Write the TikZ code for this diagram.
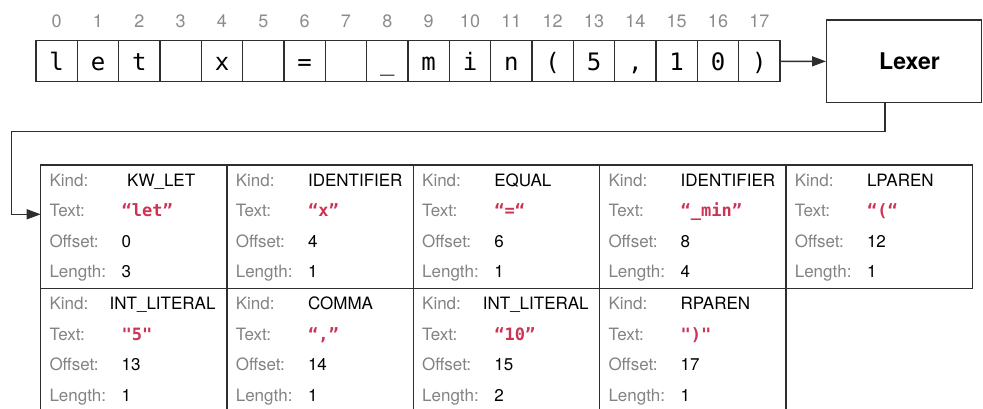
\documentclass[tikz,border=0pt]{standalone}
\usepackage{fontspec}
\setmainfont{TeX Gyre Heros}
\newfontfamily\monof[Ligatures=TeXOff]{DejaVu Sans Mono}
\usetikzlibrary{arrows.meta,calc}
\definecolor{linec}{HTML}{2E2E2E}
\definecolor{idxc}{HTML}{8C8C8C}
\definecolor{labc}{HTML}{838383}
\definecolor{redc}{HTML}{CC3355}
\newcommand\tokf[6]{%
  \node[lab] (#1-kl) at ($(#1.north west)+(9.3,21.7)$) {Kind:};
  \node[lab] (#1-tl) at ($(#1.north west)+(9.3,52.3)$) {Text:};
  \node[lab] (#1-ol) at ($(#1.north west)+(9.3,82.9)$) {Offset:};
  \node[lab] (#1-ll) at ($(#1.north west)+(9.3,113.5)$) {Length:};
  \node[val] (#1-kv) at ($(#1.north west)+(#2,21.7)$) {#3};
  \node[redval] (#1-tv) at ($(#1.north west)+(81.5,52.3)$) {#4};
  \node[val] (#1-ov) at ($(#1.north west)+(81.5,82.9)$) {#5};
  \node[val] (#1-lv) at ($(#1.north west)+(81.5,113.5)$) {#6};
}
\begin{document}
\begin{tikzpicture}[x=1pt,y=-1pt,
  charcell/.style={draw=linec,line width=1.3pt,minimum width=41.33pt,minimum height=41pt,inner sep=0pt,
    font=\monof\fontsize{24}{24}\selectfont,text height=19pt,text depth=0pt},
  idx/.style={anchor=base,inner sep=0pt,text=idxc,font=\fontsize{18}{18}\selectfont},
  lexbox/.style={draw=linec,line width=1.4pt,minimum width=155pt,minimum height=82.7pt,inner sep=0pt,
    font=\bfseries\fontsize{23}{23}\selectfont},
  tok/.style={draw=linec,line width=1.4pt,minimum width=186.33pt,minimum height=123.5pt,inner sep=0pt},
  lab/.style={anchor=base west,inner sep=0pt,text=labc,font=\fontsize{17}{17}\selectfont},
  val/.style={anchor=base west,inner sep=0pt,text=black,font=\fontsize{17}{17}\selectfont},
  redval/.style={anchor=base west,inner sep=0pt,text=redc,font=\monof\bfseries\fontsize{17}{17}\selectfont},
  conn/.style={draw=linec,line width=1.4pt,-{Triangle[length=14pt,width=10pt]}}]
\clip (0,0) rectangle (983,409);
\fill[white] (0,0) rectangle (983,409);
% character cells
\node[charcell] (c0) at (56.67,61.3) {l};
\node[charcell] (c1) at (98.00,61.3) {e};
\node[charcell] (c2) at (139.33,61.3) {t};
\node[charcell] (c3) at (180.67,61.3) {};
\node[charcell] (c4) at (222.00,61.3) {x};
\node[charcell] (c5) at (263.33,61.3) {};
\node[charcell] (c6) at (304.67,61.3) {=};
\node[charcell] (c7) at (346.00,61.3) {};
\node[charcell] (c8) at (387.33,61.3) {\_};
\node[charcell] (c9) at (428.67,61.3) {m};
\node[charcell] (c10) at (470.00,61.3) {i};
\node[charcell] (c11) at (511.33,61.3) {n};
\node[charcell] (c12) at (552.67,61.3) {(};
\node[charcell] (c13) at (594.00,61.3) {5};
\node[charcell] (c14) at (635.33,61.3) {,};
\node[charcell] (c15) at (676.67,61.3) {1};
\node[charcell] (c16) at (718.00,61.3) {0};
\node[charcell] (c17) at (759.33,61.3) {)};
% indices
\node[idx] (n0) at (56.67,27.3) {0};
\node[idx] (n1) at (98.00,27.3) {1};
\node[idx] (n2) at (139.33,27.3) {2};
\node[idx] (n3) at (180.67,27.3) {3};
\node[idx] (n4) at (222.00,27.3) {4};
\node[idx] (n5) at (263.33,27.3) {5};
\node[idx] (n6) at (304.67,27.3) {6};
\node[idx] (n7) at (346.00,27.3) {7};
\node[idx] (n8) at (387.33,27.3) {8};
\node[idx] (n9) at (428.67,27.3) {9};
\node[idx] (n10) at (470.00,27.3) {10};
\node[idx] (n11) at (511.33,27.3) {11};
\node[idx] (n12) at (552.67,27.3) {12};
\node[idx] (n13) at (594.00,27.3) {13};
\node[idx] (n14) at (635.33,27.3) {14};
\node[idx] (n15) at (676.67,27.3) {15};
\node[idx] (n16) at (718.00,27.3) {16};
\node[idx] (n17) at (759.33,27.3) {17};
% lexer
\node[lexbox] (lexer) at (904.2,61.35) {\hspace*{10.6pt}Lexer};
\draw[conn] (c17.east) -- (lexer.west);
% token cells
\node[tok] (t1) at (133.87,226.75) {};
\node[tok] (t2) at (320.20,226.75) {};
\node[tok] (t3) at (506.53,226.75) {};
\node[tok] (t4) at (692.87,226.75) {};
\node[tok] (t5) at (879.20,226.75) {};
\node[tok] (t6) at (133.87,350.25) {};
\node[tok] (t7) at (320.20,350.25) {};
\node[tok] (t8) at (506.53,350.25) {};
\node[tok] (t9) at (692.87,350.25) {};
\tokf{t1}{87}{KW\_LET}{“let”}{0}{3}
\tokf{t2}{81.5}{IDENTIFIER}{“x”}{4}{1}
\tokf{t3}{81.5}{EQUAL}{“=“}{6}{1}
\tokf{t4}{81.5}{IDENTIFIER}{“\_min”}{8}{4}
\tokf{t5}{81.5}{LPAREN}{“(“}{12}{1}
\tokf{t6}{69.5}{INT\_LITERAL}{"5"}{13}{1}
\tokf{t7}{81.5}{COMMA}{“,”}{14}{1}
\tokf{t8}{70}{INT\_LITERAL}{“10”}{15}{2}
\tokf{t9}{81.5}{RPAREN}{")"}{17}{1}
% connector from lexer to tokens
\coordinate (lexout) at (885,102.7);
\coordinate (bend) at (11.7,131.7);
\coordinate (tin) at (40.7,214.3);
\draw[conn] (lexout) |- (bend) |- (tin);
\end{tikzpicture}
\end{document}
